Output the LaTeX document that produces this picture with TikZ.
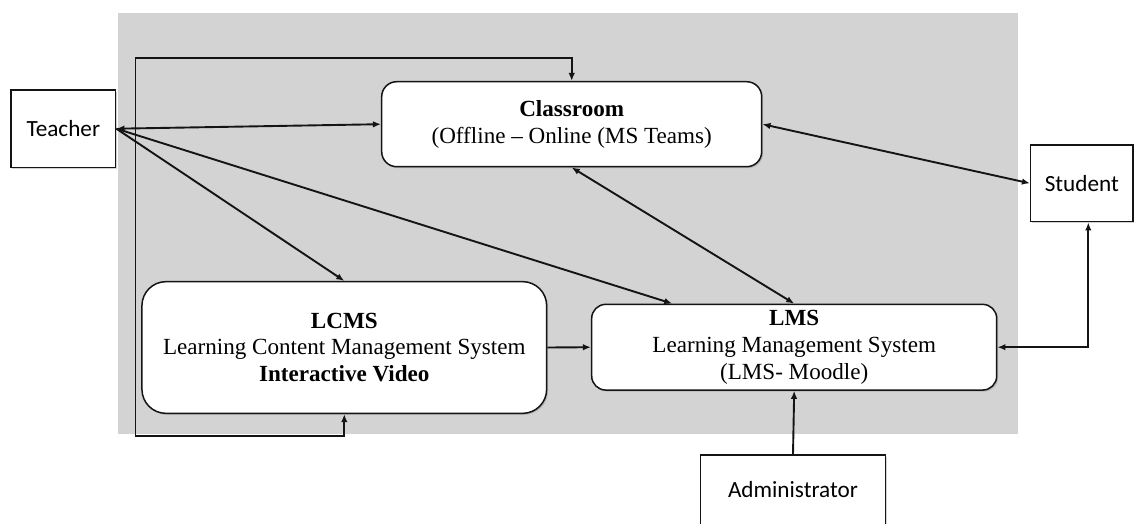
\documentclass[tikz,border=0pt]{standalone}
\usepackage{fontspec}
\setmainfont{Liberation Serif}
\newfontfamily\actorFont{Carlito}
\usetikzlibrary{arrows.meta,calc,shadows}

\begin{document}
\begin{tikzpicture}[x=1pt, y=-1pt,
    boxShadow/.style={drop shadow={shadow xshift=1.5pt, shadow yshift=-1.5pt, opacity=0.35}},
    actorBox/.style={draw=borderColour, fill=white, line width=1.5pt, boxShadow,
        font=\actorFont\fontsize{23.2}{27}\selectfont},
    systemBox/.style={draw=borderColour, fill=white, line width=1.5pt, boxShadow,
        align=center, inner sep=3pt, font=\fontsize{23.1}{26.7}\selectfont},
    link/.style={draw=borderColour, line width=1.9pt},
    oneWay/.style={link, -{Latex[length=8pt,width=6.5pt]}},
    twoWay/.style={link, {Latex[length=8pt,width=6.5pt]}-{Latex[length=8pt,width=6.5pt]}}]
    \definecolor{borderColour}{HTML}{141414}
    \definecolor{fillColourBg}{HTML}{D3D3D3}

    \clip (0,0) rectangle (1136,523);

    % Draw background panel
    \fill[fillColourBg] (117.5,12.7) rectangle (1018,434.3);

    % Actors
    \node[actorBox, minimum width=104.7, minimum height=77.3] (teacher) at (63.3,128.7) {Teacher};
    \node[actorBox, minimum width=102.3, minimum height=76.7] (student) at (1081.8,183.3) {Student};
    \node[actorBox, anchor=north, minimum width=185, minimum height=80, text depth=11.7pt] (admin) at (793,454.3) {Administrator};

    % Systems
    \node[systemBox, rounded corners=15pt, minimum width=380, minimum height=85] (classroom) at (571.7,124.2)
        {\textbf{Classroom}\\(Offline – Online (MS Teams)};
    \node[systemBox, rounded corners=24pt, minimum width=404.7, minimum height=131.7] (lcms) at (344.3,347.5)
        {\textbf{LCMS}\\Learning Content Management System\\\textbf{Interactive Video}};
    \node[systemBox, rounded corners=14pt, minimum width=405, minimum height=85.7] (lms) at (794.2,347.2)
        {\textbf{LMS}\\Learning Management System\\(LMS- Moodle)};

    % Turning points
    \coordinate (loopLow) at (135.5,435.7);
    \coordinate (loopHigh) at (135.5,58.3);
    \coordinate (studentFoot) at ($(student.south)+(6.5,0)$);
    \coordinate (lmsTop) at ($(lms.north west)!0.2!(lms.north east)$);

    % Draw connectors
    \draw[twoWay] (teacher.east) -- (classroom.west);
    \draw[oneWay] (teacher.east) -- (lcms.north);
    \draw[oneWay] (teacher.east) -- (lmsTop);
    \draw[twoWay] (classroom.south) -- (lms.north);
    \draw[twoWay] (classroom.east) -- (student.west);
    \draw[oneWay] (lcms.east) -- (lms.west);
    \draw[twoWay] (lms.east) -| (studentFoot);
    \draw[oneWay] (admin.north) -- (lms.south);
    \draw[twoWay] (lcms.south) |- (loopLow) -- (loopHigh) -| (classroom.north);

\end{tikzpicture}
\end{document}
